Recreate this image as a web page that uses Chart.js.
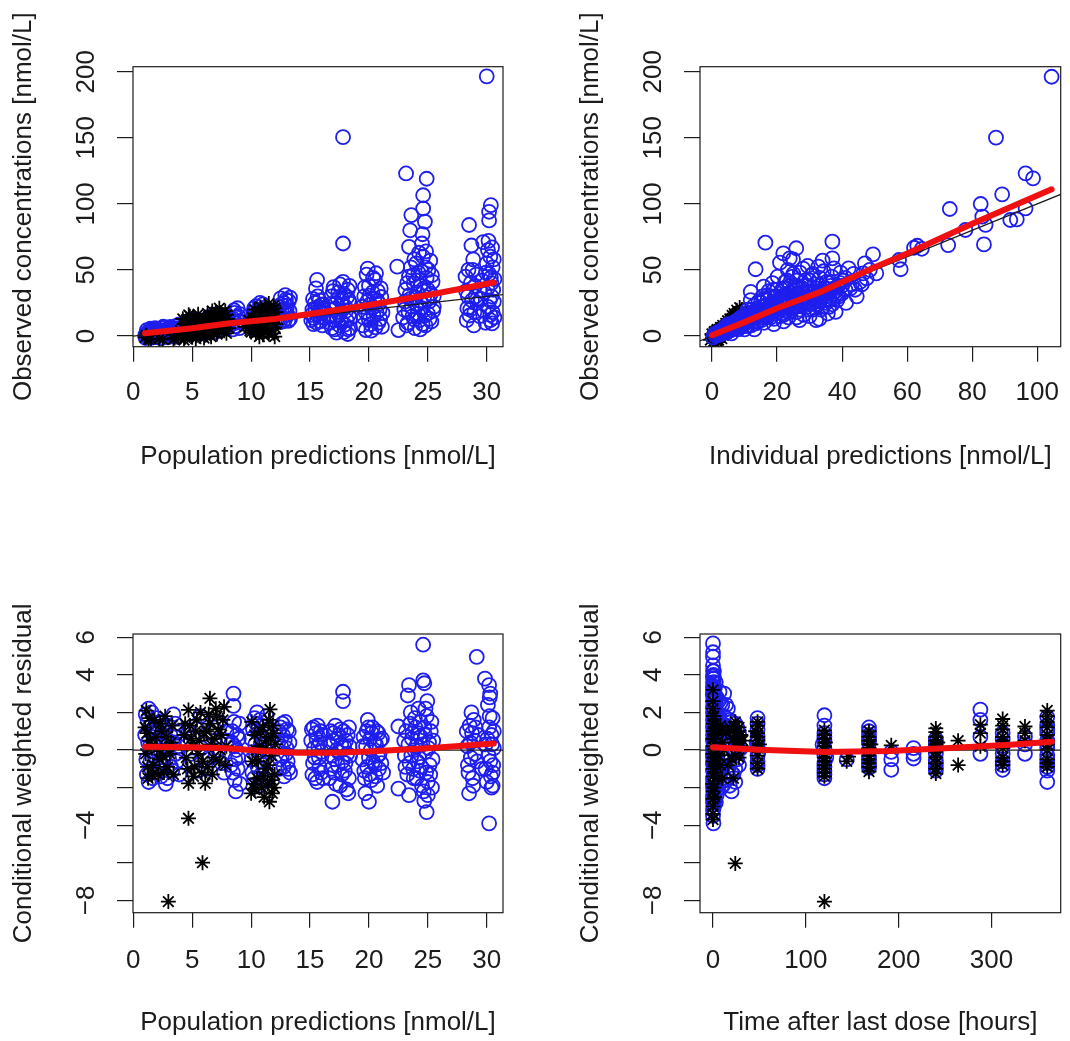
<!DOCTYPE html>
<html><head><meta charset="utf-8">
<script src="https://cdn.jsdelivr.net/npm/chart.js@4.4.1/dist/chart.umd.min.js"></script>
<style>
html,body{margin:0;padding:0;background:#fff;}
#wrap{position:relative;width:1070px;height:1041px;background:#fff;}
canvas{position:absolute;}
</style></head><body>
<div id="wrap">
<canvas id="c1" width="535" height="520" style="left:0;top:0"></canvas>
<canvas id="c2" width="535" height="520" style="left:535px;top:0"></canvas>
<canvas id="c3" width="535" height="521" style="left:0;top:520px"></canvas>
<canvas id="c4" width="535" height="521" style="left:535px;top:520px"></canvas>
</div>
<script>
// ---------------- DATA ----------------
const popPredTicks = [0,5,10,15,20,25,30];
const indPredTicks = [0,20,40,60,80,100];
const timeTicks = [0,100,200,300];
const concTicks = [0,50,100,150,200];
const cwresTicks = [-8,-6,-4,-2,0,2,4,6];
const cwresHiddenLabels = [-6,-2];

const identityLine = [[-50,-50],[300,300]];
const zeroLine = [[-50,0],[500,0]];

// Panel 1: population predictions vs observed concentrations
const popPredObsCircles = [
[1.0,0.5],[1.1,2.1],[1.2,1.0],[1.3,3.2],[1.4,0.2],[1.5,1.8],[1.6,4.0],[1.7,2.5],[1.8,0.8],[1.9,3.5],[2.0,1.5],[2.1,5.0],[2.2,2.8],[2.4,0.5],[2.5,3.9],[2.6,6.1],[2.8,2.0],[3.0,4.6],[3.1,1.2],[3.3,3.2],[3.5,6.0],[3.7,2.4],[3.9,8.8],[4.0,4.2],
[1.05,-1.5],[1.15,4.5],[1.25,-0.5],[1.35,1.5],[1.45,5.5],[1.55,-1.2],[1.65,0.6],[1.75,3.0],[1.85,6.0],[1.95,-0.8],[2.05,2.6],[2.15,0.0],[2.3,4.2],[2.35,-1.6],[2.45,1.9],[2.55,7.0],[2.65,0.3],[2.75,3.4],[2.9,5.5],[2.95,-0.9],[3.05,2.2],[3.15,6.8],[3.25,0.0],[3.4,4.9],[3.45,1.5],[3.6,7.5],[3.65,-0.5],[3.8,3.9],[3.85,5.8],[3.95,1.8],
[4.6,5.5],[5.0,8.0],[5.3,3.2],[5.6,10.5],[6.0,6.0],[6.2,12.0],[6.5,4.0],[6.9,9.0],[7.2,14.0],[7.5,7.0],[7.8,11.0],
[4.3,7.0],[4.7,2.5],[4.9,10.0],[5.1,5.5],[5.4,12.5],[5.7,7.5],[5.9,2.0],[6.1,9.0],[6.4,14.5],[6.7,6.5],[6.8,11.5],[7.0,3.0],[7.1,16.5],[7.4,9.5],[7.6,13.0],[7.9,5.5],[8.0,15.5],
[8.3,8.5],[8.5,13.0],[8.6,17.5],[8.7,10.0],[8.9,15.0],[9.0,6.0],
[8.35,12.0],[8.45,5.0],[8.55,19.5],[8.65,7.5],[8.75,14.0],[8.85,21.0],[8.95,11.0],[9.05,16.5],
[10.0,12.0],[10.2,18.0],[10.4,22.5],[10.5,8.0],[10.6,15.5],[10.8,20.0],[10.9,11.0],[11.0,24.0],[11.2,16.0],[11.3,6.5],
[10.05,9.5],[10.15,14.5],[10.25,21.0],[10.35,5.5],[10.45,13.0],[10.55,19.0],[10.65,10.5],[10.75,25.0],[10.85,7.0],[10.95,17.0],[11.05,13.5],[11.15,21.5],[11.25,9.0],[11.3,12.5],
[12.3,14.0],[12.4,22.0],[12.5,28.5],[12.6,18.0],[12.7,11.0],[12.8,25.0],[12.9,31.0],[13.0,20.0],[13.1,16.0],[13.2,26.5],[13.3,13.0],
[12.35,17.5],[12.45,10.5],[12.55,24.0],[12.65,14.0],[12.75,20.0],[12.85,12.0],[12.95,27.5],[13.05,23.0],[13.15,11.5],[13.25,19.0],[13.3,29.0],
[15.1,12.0],[15.2,20.0],[15.3,9.0],[15.4,25.0],[15.5,36.0],[15.6,42.5],[15.6,16.0],[15.7,22.0],[15.8,27.0],[15.9,11.0],[16.0,18.5],[16.1,14.0],[16.1,24.0],
[15.15,16.0],[15.25,28.0],[15.35,13.5],[15.45,21.0],[15.55,10.0],[15.65,30.0],[15.75,18.0],[15.85,14.5],[15.95,23.5],[16.05,8.0],[16.15,20.0],
[16.7,10.0],[16.8,30.0],[16.9,20.0],[17.0,37.0],[17.1,5.0],[17.2,25.0],[17.3,14.0],[17.4,33.0],[17.5,8.0],[17.6,18.0],[17.7,28.0],[17.8,150.5],[17.8,70.0],[17.8,41.0],[17.9,3.0],[18.0,22.0],[18.1,12.0],[18.2,35.0],[18.2,1.5],[18.3,16.0],[18.3,27.0],[18.4,6.0],
[16.65,15.0],[16.75,24.0],[16.85,6.0],[16.95,34.0],[17.05,12.0],[17.15,21.0],[17.25,2.5],[17.35,28.5],[17.45,16.0],[17.55,39.0],[17.65,10.5],[17.75,23.5],[17.85,32.0],[17.95,8.5],[18.05,19.0],[18.15,29.5],[18.25,5.0],[18.35,38.0],[18.4,13.5],[18.4,24.5],
[19.5,8.0],[19.6,30.0],[19.7,18.0],[19.8,46.5],[19.9,51.0],[20.0,12.0],[20.0,38.0],[20.1,24.0],[20.2,4.0],[20.3,33.0],[20.4,15.0],[20.5,42.5],[20.6,47.5],[20.7,27.0],[20.8,10.0],[20.9,20.0],[21.0,36.0],[21.1,7.0],
[19.45,22.0],[19.55,14.0],[19.65,37.0],[19.75,4.5],[19.85,26.0],[19.95,16.5],[20.05,30.5],[20.15,9.0],[20.25,21.0],[20.35,44.0],[20.45,28.0],[20.55,6.5],[20.65,18.0],[20.75,34.0],[20.85,24.5],[20.95,13.0],[21.05,29.5],[21.15,17.5],
[22.4,52.5],[22.5,4.5],[23.0,20.0],[23.1,35.0],[23.15,123.0],[23.3,10.0],[23.4,67.5],[23.4,45.0],[23.5,80.0],[23.5,28.0],[23.6,91.5],[23.7,15.0],[23.8,40.0],[23.9,6.0],[24.0,55.0],[24.0,24.0],[24.1,33.0],[24.2,48.0],[24.3,12.0],[24.4,38.0],[24.5,70.0],[24.5,21.0],[24.6,106.5],[24.6,96.5],[24.6,60.0],[24.7,30.0],[24.75,86.5],[24.8,52.0],[24.8,8.0],[24.9,119.0],[24.9,44.0],[25.0,17.0],[25.0,35.0],[25.1,26.0],[25.2,57.0],[25.3,11.0],[25.4,41.0],[25.5,22.0],
[22.9,14.0],[23.05,26.0],[23.2,8.0],[23.25,40.0],[23.35,18.5],[23.45,31.0],[23.55,52.0],[23.65,22.0],[23.75,46.0],[23.85,12.5],[23.95,29.0],[24.05,42.0],[24.15,17.0],[24.25,63.0],[24.35,26.5],[24.45,49.0],[24.55,9.0],[24.65,36.0],[24.75,15.5],[24.85,64.0],[24.95,27.5],[25.05,50.0],[25.15,13.0],[25.25,32.0],[25.35,46.0],[25.45,19.0],[25.5,30.0],[24.55,77.0],[24.35,5.0],[23.85,58.0],
[28.2,45.0],[28.3,12.0],[28.4,30.0],[28.5,84.0],[28.6,20.0],[28.7,68.5],[28.8,50.0],[28.9,8.0],[29.0,38.0],[29.2,25.0],[29.4,15.0],[29.6,42.0],[29.7,71.0],[29.8,33.0],[29.9,10.0],[30.0,196.5],[30.0,55.0],[30.1,65.0],[30.1,22.0],[30.2,94.0],[30.2,87.5],[30.2,47.0],[30.3,60.0],[30.3,12.0],[30.35,99.0],[30.4,30.0],[30.4,40.0],[30.5,18.0],[30.5,52.0],[30.6,26.0],
[28.25,34.0],[28.35,21.0],[28.45,50.0],[28.55,15.5],[28.65,40.0],[28.75,27.0],[28.85,58.0],[28.95,18.0],[29.05,30.0],[29.1,46.5],[29.5,28.0],[29.75,19.0],[29.95,48.0],[30.05,36.0],[30.15,72.0],[30.25,27.0],[30.3,16.0],[30.35,44.0],[30.45,67.0],[30.45,9.5],[30.55,35.0],[30.6,58.0],[30.65,14.0],[30.65,43.0]
];
const popPredObsStars = [
[1.0,-1.0],[1.1,0.5],[1.3,-2.5],[1.5,-2.0],[2.2,-2.0],[2.5,-2.5],[3.4,-2.5],[3.5,-1.5],[4.0,4.0],
[4.1,2.0],[4.3,9.0],[4.4,-1.0],[4.5,12.0],[4.6,5.0],[4.8,15.0],[4.9,1.0],[5.0,7.5],[5.2,11.0],[5.3,-2.0],[5.5,4.0],[5.8,8.0],[6.0,13.0],[6.1,0.5],[6.3,17.0],[6.4,6.0],[6.6,10.0],[6.7,19.0],[6.8,2.5],[7.0,14.0],[7.2,8.0],[7.3,21.0],[7.5,11.5],[7.7,4.0],[7.9,16.0],[8.0,9.0],[9.5,7.0],[9.8,12.0],[10.0,3.0],[10.5,17.0],[10.6,6.0],[10.8,22.0],[10.9,10.0],[11.0,1.0],[11.1,14.0],[11.3,19.0],[11.4,4.0],[11.5,24.5],[11.6,8.0],[11.7,12.0],[11.8,16.5],[11.9,2.0],[12.0,21.0],[12.0,6.5],
[4.2,13.0],[4.3,-3.0],[4.4,6.0],[4.5,2.0],[4.6,10.0],[4.7,16.0],[4.8,4.0],[4.9,8.5],[5.0,-1.0],[5.1,13.0],[5.2,3.0],[5.4,9.5],[5.5,16.5],[5.6,1.5],[5.7,6.5],[5.9,11.0],[6.0,-1.5],[6.2,8.5],[6.3,4.0],[6.5,14.0],[6.6,-0.5],[6.7,12.0],[6.9,7.0],[7.0,18.0],[7.1,1.5],[7.2,12.0],[7.4,17.0],[7.5,5.0],[7.6,9.0],[7.8,19.0],[7.9,2.0],[8.0,13.0],[8.1,6.0],
[9.7,9.0],[9.9,4.0],[10.1,14.0],[10.2,8.0],[10.3,20.0],[10.4,2.0],[10.5,11.0],[10.6,16.0],[10.7,-0.5],[10.8,7.5],[10.9,18.5],[11.0,12.0],[11.1,4.5],[11.2,22.0],[11.3,9.5],[11.4,15.5],[11.5,1.5],[11.6,20.0],[11.7,5.5],[11.8,10.5],[11.9,23.0],[12.0,14.0],[12.0,-0.5],[12.1,9.0],[12.1,18.0]
];
const popPredObsSmooth = [[1,2],[5,5.8],[8,9.4],[12,12.8],[16,18],[20,23.5],[25,31],[30.6,40.5]];

// Panel 2: individual predictions vs observed concentrations
const indPredObsCircles = [
[0.3,-1],[0.8,1.5],[1.2,0.2],[1.8,2.8],[2.2,0.9],[2.7,3.9],[3.1,1.8],[3.6,5.2],[4.1,2.6],[4.5,6.5],[5.0,3.5],[5.4,7.8],[5.9,4.6],[6.3,9.4],[6.8,5.7],[7.2,11.0],[7.7,6.8],[8.1,12.5],[8.6,8.0],[9.0,14.2],[9.5,9.0],[10.0,15.5],[10.4,7.5],[10.9,17.5],[11.3,11.0],[11.9,33.4],[11.9,27.1],[12.2,20.0],[12.6,13.0],[13.0,23.0],[13.4,50.5],[13.5,9.5],[13.9,16.0],[14.3,26.0],[14.8,19.5],[15.2,12.0],[15.5,30.0],[15.9,37.3],[16.0,22.0],[16.4,70.6],[16.6,15.0],[17.0,27.0],[17.4,34.0],[17.8,18.0],[18.2,24.5],[18.6,40.0],[19.0,13.0],[19.3,30.0],[19.8,21.0],[20.2,45.0],[20.5,26.0],[20.9,55.5],[21.0,15.0],[21.4,17.1],[21.5,35.0],[21.9,62.5],[22.0,22.0],[22.5,41.0],[22.9,28.0],[23.3,50.0],[23.5,14.0],[23.9,58.8],[24.0,33.0],[24.4,21.0],[24.8,45.0],[24.9,58.0],[25.2,27.0],[25.6,38.0],[25.9,66.4],[26.0,18.0],[26.4,31.0],[26.9,12.0],[27.0,48.0],[27.3,24.0],[27.8,36.0],[28.2,16.0],[28.6,42.0],[29.0,29.0],[29.4,53.0],[29.8,20.0],[30.2,34.0],[30.6,46.0],[31.0,25.0],[31.5,39.0],[32.0,12.0],[32.3,30.0],[32.7,52.5],[33.1,44.0],[33.5,20.0],[33.9,35.0],[34.3,49.0],[34.7,27.0],[35.2,41.0],[35.6,17.0],[36.0,22.1],[36.3,33.0],[36.8,45.0],[37.0,71.4],[37.0,58.8],[37.5,51.2],[38.0,18.3],[38.5,27.1],[38.8,38.0],[39.5,48.0],[40.0,32.3],[40.5,42.0],[41.2,25.0],[42.0,51.2],[42.5,36.0],[43.5,47.0],[44.5,30.0],[45.5,41.0],[46.5,47.4],[47.0,55.0],[47.5,43.6],[48.5,50.0],[49.5,61.8],[50.5,47.4],
[6,2],[8,10],[10,5],[12,8],[14,11],[16,10],[18,14],[20,18],[22,16],[24,26],[26,23],[28,27],[30,24],[19,25],[23,19],[27,31],[15,17],[11,13],[9,11],[17,21],[21,28],[25,21],[29,33],[31,29],[33,26],[35,30],
[3,4],[4,7],[5,9],[6,6],[7,8],[8,5],[9,7],[10,9],[11,8],[12,16],[13,14],[13,19],[14,21],[15,22],[15,14],[16,18],[16,28],[17,14],[17,24],[18,20],[18,30],[19,20],[19,35],[20,24],[20,30],[21,20],[21,24],[22,30],[22,36],[23,24],[23,30],[24,18],[24,38],[25,30],[25,34],[26,26],[26,42],[27,20],[27,36],[28,32],[28,24],[29,22],[29,38],[30,28],[30,42],[31,33],[31,20],[32,36],[32,24],[33,32],[33,38],[34,30],[34,22],[35,36],[35,25],[36,28],[36,40],[37,32],[37,24],[38,34],[39,30],[40,38],[41,35],[11,20],[13,5],[15,25],[17,31],[19,9],[20,35],[22,11],[23,42],[25,47],[26,14],[28,51],[30,15],[31,47],[33,13],[34,57],[36,27],
[4.5,3],[5.5,5],[6.5,8],[7.5,9],[8.5,12],[9.5,13],[10.5,12],[11.5,15],[12.5,11],[13.5,17],[14.5,15],[15.5,19],[16.5,23],[17.5,17],[18.5,22],[19.5,17],[20.5,22],[21.5,27],[22.5,19],[23.5,27],[24.5,31],[25.5,25],[26.5,29],[27.5,27],[28.5,30],[29.5,26],[30.5,32],[31.5,27],[32.5,33],[33.5,29],[34.5,36],[35.5,33],[36.5,38],[37.5,36],[38.5,31],[39.5,40],[41,44],[43,39],[44,35],[46,39],
[57.5,57.5],[58.0,50.5],[62.1,66.8],[63.1,68.3],[64.5,66.0],[72.6,68.8],[73.1,96.1],[77.9,80.2],[82.6,99.9],[83.1,90.4],[83.6,69.3],[84.1,84.1],[87.3,150.1],[89.2,107.2],[91.7,87.8],[93.7,88.3],[96.4,96.6],[96.4,123.1],[98.7,119.3],[104.4,196.2]
];
const indPredObsStars = [
[-0.5,-3],[0,1.5],[0.4,-1.5],[0.8,3.5],[1.2,0.5],[1.5,-4],[1.6,5.0],[2.0,2.0],[2.4,-1.0],[2.6,6.5],[2.9,3.0],[3.3,8.0],[3.5,0.5],[3.8,4.5],[4.2,9.5],[4.5,2.5],[4.8,11.5],[5.1,6.0],[5.5,13.0],[5.8,8.0],[6.2,15.5],[6.5,4.5],[6.8,17.0],[7.2,10.5],[7.6,19.5],[8.0,13.0],[8.5,21.5],[9.0,16.0],[1.0,-2.5],[3.0,-2.0],
[0.2,-1.5],[0.6,2.5],[1.0,1.0],[1.4,4.0],[1.8,-1.5],[2.2,4.5],[2.5,0.0],[2.8,5.0],[3.2,2.0],[3.6,7.0],[4.0,3.0],[4.4,6.5],[4.8,8.0],[5.2,10.0],[5.6,5.5],[6.0,12.5],[6.4,9.0],[6.8,13.5],[7.2,15.0],[7.6,12.0],[8.0,17.5],[8.4,15.0],[8.8,19.0],[9.2,20.0],[2.0,-3.0],[0.5,-4.0]
];
const indPredObsSmooth = [[0,0.5],[10,10.5],[20,21],[34,34],[50,52],[60,62.5],[80,85],[104.4,111]];

// Panel 3: population predictions vs conditional weighted residuals
const popPredCwresCircles = [
[1.0,0.8],[1.1,-0.5],[1.2,1.6],[1.3,2.2],[1.3,-1.7],[1.4,0.2],[1.5,-1.0],[1.6,1.1],[1.7,0.5],[1.8,-0.3],[1.9,1.4],[2.0,-1.2],[2.1,0.9],[2.2,-0.7],[2.3,0.0],[2.5,1.2],[2.6,-0.4],[2.8,0.6],[2.9,-1.5],[3.0,0.3],[3.2,-0.9],[3.4,1.9],[3.5,0.7],[3.6,-0.2],[3.8,1.0],[3.9,-1.3],
[1.05,1.9],[1.15,-1.3],[1.25,0.4],[1.35,1.2],[1.45,-0.6],[1.55,2.0],[1.65,-1.5],[1.75,0.9],[1.85,-0.1],[1.95,1.7],[2.05,-0.9],[2.15,0.5],[2.25,1.5],[2.35,-1.4],[2.45,0.2],[2.55,-0.8],[2.65,1.0],[2.75,-1.8],[2.85,0.0],[2.95,1.3],[3.05,-0.5],[3.15,0.8],[3.3,-1.1],[3.45,0.4],[3.55,1.4],[3.7,-0.6],[3.85,0.2],
[4.5,0.4],[5.0,-0.6],[5.3,1.3],[5.8,0.1],[6.2,-1.0],[6.6,0.9],[7.0,-0.3],[7.3,1.5],[7.7,-1.2],[8.0,0.5],
[4.7,1.0],[4.9,-0.2],[5.1,0.7],[5.5,-1.1],[5.7,1.8],[6.0,0.4],[6.4,-0.4],[6.8,1.2],[7.2,0.0],[7.5,-0.7],[7.9,1.0],
[8.3,-0.8],[8.4,1.0],[8.5,3.0],[8.5,2.35],[8.6,-1.6],[8.6,0.2],[8.7,-2.2],[8.8,0.8],[8.9,-0.4],[9.0,1.4],
[8.35,0.4],[8.45,-1.2],[8.55,1.5],[8.65,-0.5],[8.75,0.0],[8.85,-1.0],[8.95,0.6],[9.05,-1.8],
[10.0,0.6],[10.1,-1.2],[10.3,1.7],[10.4,-0.2],[10.5,2.0],[10.6,0.9],[10.7,-1.9],[10.8,0.3],[10.9,1.3],[11.0,-0.8],[11.2,0.0],[11.3,1.8],
[10.05,-0.5],[10.15,1.1],[10.25,-1.5],[10.35,0.3],[10.45,1.4],[10.55,-0.9],[10.65,0.0],[10.75,1.6],[10.85,-1.3],[10.95,0.6],[11.05,-0.3],[11.15,1.0],[11.25,-1.6],
[12.3,0.4],[12.4,-1.0],[12.5,1.2],[12.6,-0.3],[12.7,0.8],[12.8,-1.4],[12.9,1.5],[13.0,0.1],[13.1,-0.6],[13.2,1.0],[13.3,-1.2],
[12.35,1.0],[12.45,-0.5],[12.55,0.2],[12.65,1.4],[12.75,-0.9],[12.85,0.5],[12.95,-0.2],[13.05,1.1],[13.15,-1.0],[13.25,0.4],
[15.1,0.5],[15.2,-1.3],[15.3,1.2],[15.4,-0.4],[15.5,0.9],[15.6,-1.7],[15.7,0.2],[15.8,-0.9],[15.9,1.0],[16.0,-0.1],[16.1,-1.5],
[15.15,1.1],[15.25,-0.7],[15.35,0.1],[15.45,-1.5],[15.55,0.6],[15.65,1.3],[15.75,-0.4],[15.85,0.4],[15.95,-1.2],[16.05,0.8],
[16.7,0.3],[16.8,-1.0],[16.9,-2.75],[17.0,0.9],[17.1,-0.5],[17.2,-1.8],[17.3,0.6],[17.4,-0.1],[17.6,1.1],[17.7,-1.3],[17.8,3.1],[17.8,2.6],[17.9,0.2],[18.0,-0.7],[18.1,-2.1],[18.2,0.8],[18.3,-1.5],[18.3,1.2],[18.4,-0.3],
[16.65,-1.5],[16.75,1.0],[16.85,-0.3],[16.95,0.5],[17.05,-1.2],[17.15,1.3],[17.25,0.0],[17.35,-0.8],[17.45,0.8],[17.55,-1.9],[17.65,0.3],[17.75,-0.6],[17.85,1.0],[17.95,-1.1],[18.05,0.5],[18.15,-0.2],[18.25,-2.3],[18.35,0.2],
[19.5,0.2],[19.6,-1.1],[19.7,-2.3],[19.8,1.0],[19.9,1.6],[20.0,-2.75],[20.0,-0.4],[20.1,0.6],[20.2,-1.6],[20.3,1.2],[20.5,-0.8],[20.6,0.3],[20.7,-1.9],[20.8,0.9],[20.9,-0.2],[21.1,0.6],[21.2,-1.2],
[19.45,-0.5],[19.55,0.7],[19.65,-1.5],[19.75,0.2],[19.85,-0.9],[19.95,1.2],[20.05,-1.3],[20.15,0.0],[20.25,0.9],[20.35,-0.6],[20.45,0.4],[20.55,-1.4],[20.65,1.0],[20.75,-0.3],[20.85,-1.0],[20.95,0.5],[21.05,-0.7],
[22.5,1.25],[22.5,-2.05],[23.0,0.5],[23.1,-0.9],[23.3,2.9],[23.4,3.45],[23.4,-2.4],[23.5,1.4],[23.6,-0.3],[23.7,0.9],[23.8,-1.5],[23.9,1.7],[24.0,0.2],[24.1,-0.6],[24.2,2.2],[24.3,-1.1],[24.4,0.7],[24.5,-1.9],[24.6,5.6],[24.6,3.7],[24.7,3.55],[24.7,1.2],[24.8,-0.1],[24.9,-3.3],[24.9,1.8],[25.0,-2.4],[25.1,0.4],[25.2,-1.3],[25.3,1.5],[25.4,-0.5],
[23.05,-0.3],[23.15,1.0],[23.25,-1.3],[23.35,0.3],[23.45,-0.7],[23.55,2.0],[23.65,0.6],[23.75,-1.0],[23.85,0.0],[23.95,1.2],[24.05,-1.5],[24.15,0.9],[24.25,-0.4],[24.35,1.5],[24.45,-0.9],[24.55,0.3],[24.65,-2.2],[24.75,0.8],[24.85,-1.2],[24.95,2.6],[25.05,0.1],[25.15,-0.8],[25.25,1.0],[25.35,-2.0],[25.45,0.5],[24.7,-2.7],[24.8,2.2],[25.0,-1.7],
[28.3,1.0],[28.4,-0.8],[28.5,-2.3],[28.6,0.4],[28.7,2.0],[28.8,-1.5],[28.9,1.6],[29.0,-0.2],[29.15,4.95],[29.3,0.8],[29.6,-1.0],[29.85,3.8],[29.9,0.3],[30.0,-1.7],[30.1,2.4],[30.2,3.45],[30.2,-3.9],[30.2,1.2],[30.3,3.0],[30.3,-0.6],[30.4,-2.0],[30.4,0.8],[30.5,1.7],[30.5,-1.2],[30.6,0.1],
[28.35,0.2],[28.45,-1.2],[28.55,1.3],[28.65,-0.4],[28.75,0.9],[28.85,-1.9],[28.95,0.5],[29.05,1.2],[29.2,-0.6],[29.9,-1.0],[30.05,0.6],[30.15,-0.3],[30.25,1.8],[30.35,-1.4],[30.45,0.3],[30.55,-0.8],[30.6,1.0],[30.25,2.8],[30.5,-1.9]
];
const popPredCwresStars = [
[1.0,1.2],[1.1,2.1],[1.2,-0.9],[1.4,0.5],[1.6,-1.3],[1.8,1.6],[2.0,0.1],[2.2,-0.5],[2.4,1.0],[2.6,-1.2],[2.8,0.7],[2.97,-8.06],[3.1,-0.2],[3.3,1.3],[4.3,0.8],[4.5,-0.4],[4.68,2.13],[4.68,-1.77],[4.68,-3.63],[4.8,1.3],[5.0,0.2],[5.2,-0.9],[5.4,1.6],[5.6,0.5],[5.87,-5.99],[5.9,-0.6],[6.1,-1.77],[6.2,1.0],[6.4,1.9],[6.5,2.75],[6.6,0.3],[6.8,-0.4],[7.0,2.2],[7.2,1.1],[7.4,0.0],[7.6,1.6],[7.8,-0.8],[10.0,-2.3],[10.1,-0.6],[10.3,0.8],[10.5,-1.5],[10.7,0.2],[10.9,-2.0],[11.0,1.2],[11.2,-1.0],[11.3,0.5],[11.4,-1.8],[11.5,1.6],[11.55,-2.75],[11.6,2.16],[11.7,-0.3],[11.8,-2.3],[11.9,0.9],[12.0,-1.3],
[1.05,-0.2],[1.15,0.9],[1.25,-1.5],[1.35,1.7],[1.5,0.2],[1.7,-0.8],[1.9,0.7],[2.1,-1.3],[2.3,1.4],[2.5,-0.3],[2.7,1.8],[2.9,-0.9],[3.2,0.4],[3.4,-1.3],[4.4,1.4],[4.6,-1.0],[4.9,0.6],[5.1,-1.4],[5.3,1.0],[5.5,-0.2],[5.7,2.0],[5.8,-1.2],[6.0,0.9],[6.3,-0.9],[6.5,1.4],[6.7,-1.3],[6.9,0.6],[7.1,1.8],[7.3,-0.6],[7.5,0.8],[7.7,2.3],[7.9,0.2],[10.05,1.5],[10.2,-1.8],[10.4,0.0],[10.6,-0.6],[10.8,1.0],[11.05,-1.4],[11.25,0.1],[11.45,-0.8],[11.65,0.7],[11.75,-1.6],[11.85,1.3],[11.95,-2.0],[12.05,0.3],[10.3,-2.1],[11.1,-2.5]
];
const popPredCwresSmooth = [[1,0.18],[5,0.15],[8,0.1],[11,-0.05],[14,-0.15],[17,-0.15],[20,-0.08],[25,0.1],[30.6,0.35]];

// Panel 4: time after last dose vs conditional weighted residuals
const timeCwresCircles = [
[0,5.67],[0,4.96],[0.5,3.99],[0.3,3.8],[0.8,3.6],[0.2,3.4],[1,3.2],[0.5,3.0],[1.5,2.8],[0,2.6],[2,2.4],[1,2.2],[0.4,2.0],[2.5,1.8],[3,1.5],[0.6,1.3],[1.2,1.0],[4,0.8],[2,0.6],[0.8,0.3],[3,0.0],[1.5,-0.3],[5,-0.5],[0.3,-0.8],[2.2,-1.0],[1,-1.3],[4,-1.5],[0.5,-1.8],[2,-2.0],[1,-2.3],[0.2,-2.6],[3,-2.8],[0.6,-3.1],[0,-3.5],[0.5,-3.9],[0,1.6],[0,0.5],[0,-0.4],[0,-1.1],[0,-2.0],[0,3.9],[0,3.6],[0,3.0],[1,2.6],[2,3.3],[0.5,-1.6],[1.5,-2.7],[2.5,-0.2],[3.5,1.0],[4.5,2.0],
[0,5.2],[0,4.5],[0,4.2],[0,3.3],[0,2.9],[0,2.3],[0,2.0],[0,1.2],[0,0.8],[0,0.1],[0,-0.2],[0,-0.7],[0,-1.5],[0,-1.8],[0,-2.4],[0,-2.8],[0,-3.2],[1,4.2],[1,3.8],[1,1.7],[1,0.4],[1,-0.6],[1,-1.7],[1,-2.9],[2,2.9],[2,1.1],[2,-0.4],[2,-1.5],[2,-2.6],[3,3.6],[3,2.4],[3,0.7],[3,-1.0],[3,-2.2],[4,2.8],[4,1.5],[4,-0.7],[4,-2.4],[5,1.3],[5,0.3],[5,-1.1],[6,2.6],[6,0.6],[6,-1.8],
[6,1.8],[8,0.5],[8,-1.2],[10,2.4],[12,3.0],[12,0.9],[12,-0.6],[14,2.4],[14,-1.6],[16,1.2],[16,-0.2],[18,0.4],[18,-1.9],[20,1.5],[20,-2.2],[22,0.0],[24,0.8],[24,-1.0],[24,1.4],[26,-0.5],[26,0.3],[6,-0.9],[10,-0.3],[14,0.5],[18,1.6],[22,-1.3],[28,0.9],[28,-0.8],[30,0.1],[10,1.2],[7,3.1],[9,-2.0],[11,-1.5],
[8,1.5],[8,2.5],[10,-1.0],[12,1.8],[12,-1.8],[14,1.3],[14,-0.6],[16,2.2],[16,-1.2],[18,-0.8],[18,0.9],[20,0.4],[20,-1.2],[22,1.0],[24,0.0],[24,-1.7],[26,1.2],[28,0.0],
[48,1.7],[48,1.1],[48,0.7],[48,0.2],[48,-0.3],[48,-0.6],[48,-1.0],[47,0.4],[49,-0.1],[48,1.4],[48,0.5],[48,-0.8],
[120,1.85],[120,0.9],[120,0.5],[120,0.1],[120,-0.3],[120,-0.7],[120,-1.1],[120,-1.5],[118,0.3],[122,-0.4],[120,1.3],[120,0.7],[120,-0.9],[120,-1.3],
[144,-0.5],
[168,1.2],[168,0.8],[168,0.4],[168,0.0],[168,-0.4],[168,-0.8],[168,-0.95],[168,1.0],[168,0.6],[168,-0.6],
[192,-0.1],[192,-0.5],[192,-1.05],
[216,0.1],[216,-0.2],[216,-0.45],
[240,0.6],[240,0.2],[240,-0.2],[240,-0.55],[240,-0.9],[240,-1.1],[240,0.4],[240,-0.7],
[288,2.15],[288,1.6],[288,0.7],[288,-0.2],
[312,0.6],[312,0.2],[312,-0.2],[312,-0.6],[312,-1.05],[312,0.9],[312,-0.8],
[336,0.7],[336,0.3],[336,-0.2],
[360,1.75],[360,1.3],[360,0.9],[360,0.5],[360,0.1],[360,-0.3],[360,-0.7],[360,-1.1],[360,-1.7],[360,1.1],[360,0.3],[360,-0.5],[360,-0.9]
];
const timeCwresStars = [
[0,2.6],[0,1.8],[0,1.0],[0,0.2],[0,-0.6],[0,-1.4],[0,-2.2],[0,-3.0],[0,-3.7],[1,0.6],[2,-1.2],[3,1.4],[4,-0.2],[6,1.0],[8,-0.8],[10,0.4],[24,-6.03],[24,1.2],[24,0.9],[24,0.4],[26,1.0],[28,0.7],[30,0.2],[28,-0.4],[22,-1.5],
[0,3.2],[0,2.2],[0,1.4],[0,0.6],[0,-0.2],[0,-1.0],[0,-1.8],[0,-2.6],[0,-3.4],[1,1.8],[1,-0.4],[1,-2.0],[2,0.8],[2,-2.5],[3,-0.8],[4,1.0],[5,-1.5],[6,-0.3],[8,1.3],[10,-1.5],[12,0.0],[14,0.9],[16,-0.8],[18,1.2],[20,-0.5],[22,0.6],[24,1.5],[26,0.5],[24,-0.3],[30,0.8],[32,0.5],[28,1.2],
[48,1.3],[48,0.9],[48,0.5],[48,0.1],[48,-0.7],[50,0.3],[46,1.0],[48,1.5],[48,0.7],[48,-0.3],[48,-1.0],
[120,-8.06],[120,1.05],[120,0.6],[120,0.2],[120,-0.2],[120,-0.6],[120,-1.0],[120,-1.4],[121,0.4],[120,0.8],[120,0.0],[120,-0.4],[120,-0.8],[120,-1.2],
[144,-0.6],[146,-0.35],
[168,1.0],[168,0.5],[168,0.1],[168,-0.3],[168,-0.7],[168,-1.15],[170,0.3],[168,0.7],[168,0.3],[168,-0.5],[168,-0.9],
[192,0.25],
[240,1.15],[240,0.95],[240,0.7],[240,0.3],[240,-0.1],[240,-0.7],[240,-1.25],[242,0.4],[240,0.5],[240,0.1],[240,-0.4],[240,-1.0],
[264,0.5],[264,-0.8],
[288,1.35],[288,0.9],[288,0.2],
[312,1.65],[312,1.1],[312,0.7],[312,0.3],[312,-0.4],[312,-0.8],[312,1.3],[312,0.5],[312,0.1],[312,-0.6],
[336,1.25],[336,0.5],[336,0.9],
[360,2.1],[360,1.5],[360,0.8],[360,0.3],[360,-0.5],[360,-0.9],[360,1.8],[360,1.2],[360,0.5],[360,0.0],[360,-0.7]
];
const timeCwresSmooth = [[0,0.15],[50,0.02],[120,-0.1],[190,-0.05],[260,0.12],[320,0.28],[365,0.44]];

// ---------------- STYLE / LAYOUT ----------------
const FONT = '"Liberation Sans", Arial, Helvetica, sans-serif';
const INK = '#1c1c1c';
const BLUE = 'rgb(30,30,238)';
const RED = '#f01010';

function fmt(v){ return v < 0 ? '\u2212' + Math.abs(v) : String(v); }
const measureCtx = document.createElement('canvas').getContext('2d');
function textW(t){ measureCtx.font = '26px ' + FONT; return measureCtx.measureText(t).width; }

const boxPlugin = {
  id: 'rbox',
  afterDatasetsDraw(chart){
    const a = chart.chartArea, ctx = chart.ctx;
    ctx.save();
    ctx.strokeStyle = INK; ctx.lineWidth = 1.2;
    ctx.strokeRect(a.left, a.top, a.right - a.left, a.bottom - a.top);
    ctx.restore();
  }
};

function buildPanel(id, p){
  const yLabels = p.yTicks.map(v => (p.yHidden || []).includes(v) ? '' : fmt(v));
  const widest = Math.max(...yLabels.map(textW));
  const yTickLen = 16;
  const yPad = 46 - yTickLen - widest / 2;
  const starOrder = p.starsOnTop ? 2 : 3;
  const circleOrder = p.starsOnTop ? 3 : 2;
  new Chart(document.getElementById(id), {
    type: 'scatter',
    data: { datasets: [
      { data: p.smooth, showLine: true, borderColor: RED, borderWidth: 6, pointRadius: 0, borderCapStyle: 'round', borderJoinStyle: 'round', order: 0 },
      { data: p.ref, showLine: true, borderColor: INK, borderWidth: 1.3, pointRadius: 0, order: 1 },
      { data: p.stars, showLine: false, pointStyle: 'star', pointRadius: 7.5, borderColor: '#000', borderWidth: 1.8, backgroundColor: 'rgba(0,0,0,0)', order: starOrder },
      { data: p.circles, showLine: false, pointStyle: 'circle', pointRadius: 7, borderColor: BLUE, borderWidth: 1.8, backgroundColor: 'rgba(0,0,0,0)', order: circleOrder }
    ]},
    options: {
      animation: false, responsive: false, devicePixelRatio: 1,
      events: [],
      layout: { padding: { left: p.padL, right: p.padR, top: p.padT, bottom: 0 } },
      plugins: { legend: { display: false }, tooltip: { enabled: false } },
      scales: {
        x: {
          type: 'linear', position: 'bottom', min: p.xMin, max: p.xMax,
          afterBuildTicks: s => { s.ticks = p.xTicks.map(v => ({ value: v })); },
          afterFit: s => { s.height = p.xH; s.paddingLeft = 0; s.paddingRight = 0; s.paddingTop = 0; s.paddingBottom = 0; },
          ticks: { autoSkip: false, minRotation: 0, maxRotation: 0, padding: p.xTickPad, color: INK, font: { family: FONT, size: 26 }, callback: v => fmt(v) },
          grid: { display: true, drawOnChartArea: false, drawTicks: true, tickLength: 15, color: INK, lineWidth: 1.2 },
          border: { display: false },
          title: { display: true, text: p.xTitle, color: INK, font: { family: FONT, size: 26 }, padding: { top: 0, bottom: p.xTitlePad } }
        },
        y: {
          type: 'linear', position: 'left', min: p.yMin, max: p.yMax,
          afterBuildTicks: s => { s.ticks = p.yTicks.map(v => ({ value: v })); },
          afterFit: s => { s.width = p.yW; s.paddingLeft = 0; s.paddingRight = 0; s.paddingTop = 0; s.paddingBottom = 0; },
          ticks: { autoSkip: false, minRotation: 90, maxRotation: 90, crossAlign: 'center', padding: yPad, color: INK, font: { family: FONT, size: 26 },
                   callback: v => (p.yHidden || []).includes(v) ? '' : fmt(v) },
          grid: { display: true, drawOnChartArea: false, drawTicks: true, tickLength: yTickLen, color: INK, lineWidth: 1.2 },
          border: { display: false },
          title: { display: true, text: p.yTitle, color: INK, font: { family: FONT, size: 26 }, padding: { top: 8.5, bottom: 0 } }
        }
      }
    },
    plugins: [boxPlugin]
  });
}

buildPanel('c1', {
  circles: popPredObsCircles, stars: popPredObsStars, smooth: popPredObsSmooth, ref: identityLine, starsOnTop: true,
  xTicks: popPredTicks, yTicks: concTicks, xMin: -0.03, xMax: 31.38, yMin: -8.1, yMax: 203.8,
  xTitle: 'Population predictions [nmol/L]', yTitle: 'Observed concentrations [nmol/L]',
  padL: 0, padR: 32, padT: 66.7, yW: 133, xH: 173.3, xTickPad: 16, xTitlePad: 47.7
});
buildPanel('c2', {
  circles: indPredObsCircles, stars: indPredObsStars, smooth: indPredObsSmooth, ref: identityLine, starsOnTop: false,
  xTicks: indPredTicks, yTicks: concTicks, xMin: -3.7, xMax: 107.2, yMin: -8.1, yMax: 203.8,
  xTitle: 'Individual predictions [nmol/L]', yTitle: 'Observed concentrations [nmol/L]',
  padL: 32, padR: 1.7, padT: 66.7, yW: 133, xH: 173.3, xTickPad: 16, xTitlePad: 47.7
});
buildPanel('c3', {
  circles: popPredCwresCircles, stars: popPredCwresStars, smooth: popPredCwresSmooth, ref: zeroLine, starsOnTop: true,
  xTicks: popPredTicks, yTicks: cwresTicks, yHidden: cwresHiddenLabels, xMin: -0.03, xMax: 31.38, yMin: -8.65, yMax: 6.17,
  xTitle: 'Population predictions [nmol/L]', yTitle: 'Conditional weighted residual',
  padL: 0, padR: 32, padT: 114, yW: 133, xH: 128.3, xTickPad: 18, xTitlePad: 2.1
});
buildPanel('c4', {
  circles: timeCwresCircles, stars: timeCwresStars, smooth: timeCwresSmooth, ref: zeroLine, starsOnTop: true,
  xTicks: timeTicks, yTicks: cwresTicks, yHidden: cwresHiddenLabels, xMin: -14.0, xMax: 374.5, yMin: -8.65, yMax: 6.17,
  xTitle: 'Time after last dose [hours]', yTitle: 'Conditional weighted residual',
  padL: 32, padR: 1.7, padT: 114, yW: 133, xH: 128.3, xTickPad: 18, xTitlePad: 2.1
});
</script>
</body></html>
